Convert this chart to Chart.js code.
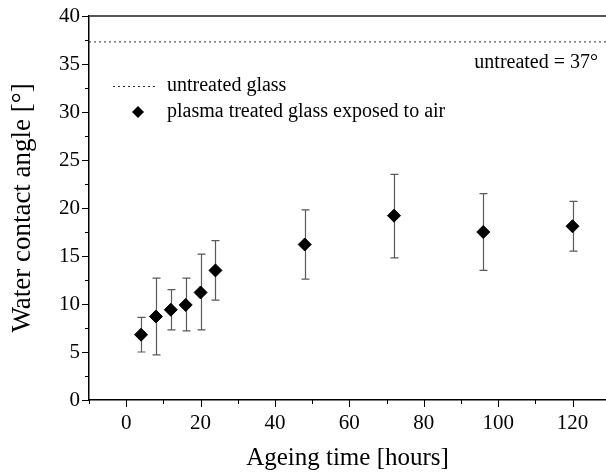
<!DOCTYPE html>
<html>
<head>
<meta charset="utf-8">
<script src="https://cdn.jsdelivr.net/npm/chart.js@4.4.1/dist/chart.umd.min.js"></script>
<style>
  html, body { margin: 0; padding: 0; background: #fff; }
  #wrap { width: 606px; height: 476px; }
</style>
</head>
<body>
<div id="wrap"><canvas id="chart" width="606" height="476"></canvas></div>
<script>
// data
var ageingHours = [4, 8, 12, 16, 20, 24, 48, 72, 96, 120];
var contactAngle = [6.8, 8.7, 9.4, 9.9, 11.2, 13.5, 16.2, 19.2, 17.5, 18.1];
var errLow = [5.0, 4.7, 7.3, 7.2, 7.3, 10.4, 12.6, 14.8, 13.5, 15.5];
var errHigh = [8.6, 12.7, 11.5, 12.7, 15.2, 16.6, 19.8, 23.5, 21.5, 20.7];
var untreatedAngle = 37.3;

var xMin = -10, xMax = 129;
var xTicks = [-10, 0, 10, 20, 30, 40, 50, 60, 70, 80, 90, 100, 110, 120];
var yTicks = [0, 2.5, 5, 7.5, 10, 12.5, 15, 17.5, 20, 22.5, 25, 27.5, 30, 32.5, 35, 37.5, 40];

var serif = "'Liberation Serif', 'DejaVu Serif', serif";

var points = ageingHours.map(function (h, i) {
    return { x: h, y: contactAngle[i] };
});

// error bars, tick marks, top line and legend
var extras = {
    id: 'extras',
    beforeDatasetsDraw: function (chart) {
        var ctx = chart.ctx;
        var xs = chart.scales.x, ys = chart.scales.y;
        ctx.save();
        ctx.strokeStyle = '#5a5a5a';
        ctx.lineWidth = 1.2;
        for (var i = 0; i < ageingHours.length; i++) {
            var px = Math.round(xs.getPixelForValue(ageingHours[i])) + 0.5;
            var lo = ys.getPixelForValue(errLow[i]);
            var hi = ys.getPixelForValue(errHigh[i]);
            ctx.beginPath();
            ctx.moveTo(px, lo); ctx.lineTo(px, hi);
            ctx.moveTo(px - 4, lo); ctx.lineTo(px + 4, lo);
            ctx.moveTo(px - 4, hi); ctx.lineTo(px + 4, hi);
            ctx.stroke();
        }
        ctx.restore();
    },
    afterDraw: function (chart) {
        var ctx = chart.ctx;
        var a = chart.chartArea;
        var xs = chart.scales.x, ys = chart.scales.y;
        ctx.save();
        ctx.strokeStyle = '#000';
        ctx.lineWidth = 1;
        ctx.beginPath();
        xTicks.forEach(function (v) {
            var px = Math.round(xs.getPixelForValue(v)) + 0.5;
            var len = (v % 20 === 0) ? 7 : 4;
            ctx.moveTo(px, a.bottom); ctx.lineTo(px, a.bottom + len);
        });
        yTicks.forEach(function (v) {
            var py = Math.round(ys.getPixelForValue(v)) + 0.5;
            var len = (v % 5 === 0) ? 7 : 4;
            ctx.moveTo(a.left, py); ctx.lineTo(a.left - len, py);
        });
        ctx.stroke();

        // top frame line
        ctx.strokeStyle = '#555';
        ctx.lineWidth = 1.8;
        ctx.beginPath();
        ctx.moveTo(a.left, a.top); ctx.lineTo(a.right, a.top);
        ctx.stroke();

        // annotation
        ctx.fillStyle = '#000';
        ctx.font = '20px ' + serif;
        ctx.textBaseline = 'middle';
        ctx.textAlign = 'right';
        ctx.fillText('untreated = 37°', 598, 63);

        // legend
        ctx.textAlign = 'left';
        ctx.strokeStyle = '#333';
        ctx.lineWidth = 1;
        ctx.setLineDash([2, 3]);
        ctx.beginPath();
        ctx.moveTo(113, 86.5); ctx.lineTo(158, 86.5);
        ctx.stroke();
        ctx.setLineDash([]);
        ctx.fillText('untreated glass', 167, 86);

        ctx.fillStyle = '#000';
        ctx.beginPath();
        ctx.moveTo(138, 106); ctx.lineTo(144, 112); ctx.lineTo(138, 118); ctx.lineTo(132, 112);
        ctx.closePath();
        ctx.fill();
        ctx.fillText('plasma treated glass exposed to air', 167, 112);
        ctx.restore();
    }
};

var ctx = document.getElementById('chart').getContext('2d');
var chart = new Chart(ctx, {
    type: 'scatter',
    data: {
        datasets: [{
            label: 'untreated glass',
            type: 'line',
            data: [{ x: xMin, y: untreatedAngle }, { x: xMax, y: untreatedAngle }],
            borderColor: '#333',
            borderWidth: 1,
            borderDash: [2, 3],
            pointRadius: 0,
            fill: false
        }, {
            label: 'plasma treated glass exposed to air',
            data: points,
            pointStyle: 'rectRot',
            pointRadius: 6.5,
            pointHoverRadius: 6.5,
            backgroundColor: '#000',
            borderColor: '#000',
            borderWidth: 1
        }]
    },
    options: {
        responsive: false,
        animation: false,
        devicePixelRatio: 1,
        layout: { autoPadding: false, padding: { top: 16, left: 0, right: 0, bottom: 0 } },
        plugins: {
            legend: { display: false },
            tooltip: { enabled: false }
        },
        scales: {
            x: {
                type: 'linear',
                min: xMin,
                max: xMax,
                afterBuildTicks: function (scale) {
                    scale.ticks = xTicks.map(function (v) { return { value: v }; });
                },
                afterFit: function (scale) {
                    scale.height = 76;
                    scale.paddingLeft = 0;
                    scale.paddingRight = 0;
                },
                grid: { drawOnChartArea: false, drawTicks: false },
                border: { display: true, color: '#000', width: 1.5 },
                ticks: {
                    padding: 11,
                    color: '#000',
                    maxRotation: 0,
                    autoSkip: false,
                    font: { family: serif, size: 21 },
                    callback: function (v) { return v % 20 === 0 ? v : ''; }
                },
                title: {
                    display: true,
                    text: 'Ageing time [hours]',
                    color: '#000',
                    font: { family: serif, size: 25 },
                    padding: { top: 0, bottom: 3 }
                }
            },
            y: {
                type: 'linear',
                min: 0,
                max: 40,
                afterBuildTicks: function (scale) {
                    scale.ticks = yTicks.map(function (v) { return { value: v }; });
                },
                afterFit: function (scale) {
                    scale.width = 89;
                    scale.paddingTop = 0;
                    scale.paddingBottom = 0;
                },
                grid: { drawOnChartArea: false, drawTicks: false },
                border: { display: true, color: '#000', width: 1.5 },
                ticks: {
                    padding: 9,
                    color: '#000',
                    autoSkip: false,
                    font: { family: serif, size: 21 },
                    callback: function (v) { return v % 5 === 0 ? v : ''; }
                },
                title: {
                    display: true,
                    text: 'Water contact angle [°]',
                    color: '#000',
                    font: { family: serif, size: 27 },
                    padding: { top: 7, bottom: 0 }
                }
            }
        }
    },
    plugins: [extras]
});
</script>
</body>
</html>
